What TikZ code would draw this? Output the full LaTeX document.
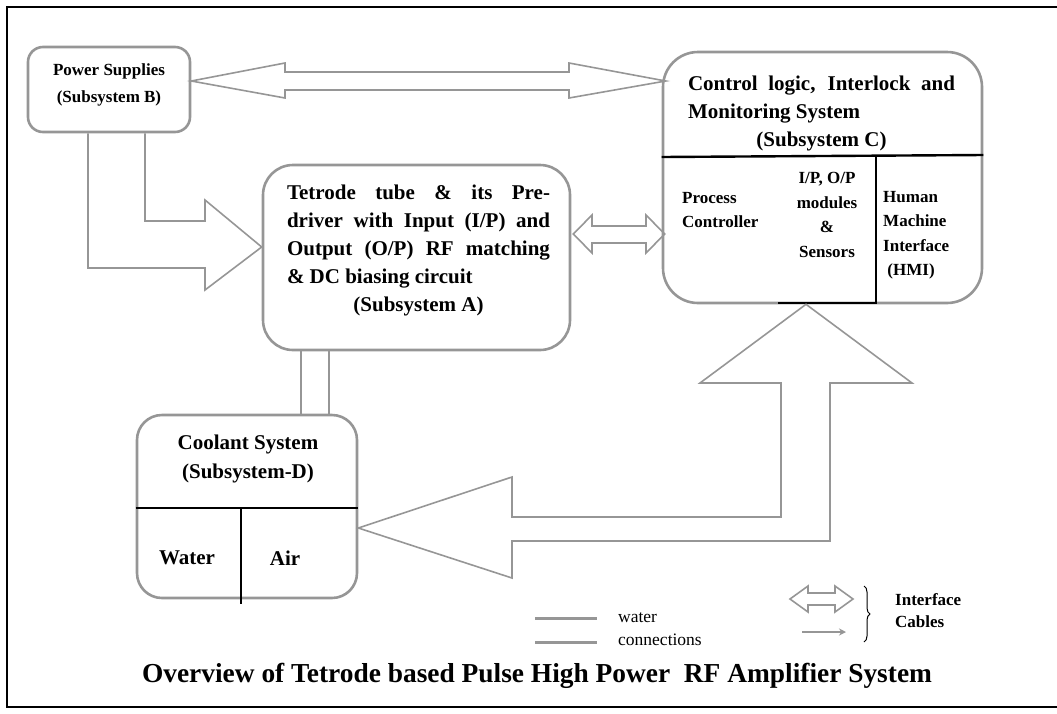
\documentclass[tikz,border=0pt]{standalone}
\usepackage{fontspec}
\setmainfont{Liberation Serif}
\usetikzlibrary{arrows.meta,calc,positioning,decorations.pathreplacing}
\definecolor{linegray}{RGB}{150,150,150}

\begin{document}
\begin{tikzpicture}[x=1pt, y=-1pt,
  block/.style={draw=linegray, line width=2.6pt, rounded corners=#1, inner sep=0pt},
  hollow/.style={draw=linegray, line width=1.6pt, line join=miter},
  divider/.style={draw=black, line width=2.4pt},
  water/.style={draw=linegray, line width=2.6pt},
  big/.style={font=\fontsize{21}{28}\selectfont\bfseries, inner sep=0pt, align=left},
  small/.style={font=\fontsize{17}{24.5}\selectfont\bfseries, inner sep=0pt, align=#1},
  small/.default=center
]
  \useasboundingbox (0,0) rectangle (1057,713);
  \draw[line width=2pt] (1057,7) -- (7,7) -- (7,707) -- (1057,707);

  % Subsystems
  \node[block=15pt, minimum width=162pt, minimum height=85pt] (ps) at (109,89.5) {};
  \node[block=30pt, minimum width=307pt, minimum height=185pt] (tet) at (416.5,257.5) {};
  \node[block=35pt, minimum width=319pt, minimum height=251pt] (ctl) at (822.5,177.5) {};
  \node[block=25pt, minimum width=220pt, minimum height=183pt] (cool) at (247,506.5) {};

  % Texts
  \node[small, font=\fontsize{17}{27}\selectfont\bfseries] (pstxt) at (109,85) {Power Supplies\\(Subsystem B)};
  \node[big] (tettxt) at (418.5,250.5) {%
    \makebox[263pt][s]{Tetrode tube \& its Pre-}\\
    \makebox[263pt][s]{driver with Input (I/P) and}\\
    \makebox[263pt][s]{Output (O/P) RF matching}\\
    \& DC biasing circuit\\
    \makebox[263pt][c]{(Subsystem A)}};
  \node[big] (ctltxt) at (821.5,113.5) {%
    \makebox[267pt][s]{Control logic, Interlock and}\\
    Monitoring System\\
    \makebox[267pt][c]{(Subsystem C)}};
  \node[small=left, anchor=west] (proc) at (682,210) {Process\\Controller};
  \node[small] (iomod) at (827,215) {I/P, O/P\\modules\\\&\\Sensors};
  \node[small=left, anchor=west] (hmi) at (883,235) {Human\\Machine\\Interface\\\ (HMI)};
  \node[big, align=center, font=\fontsize{21}{29}\selectfont\bfseries] (cooltxt) at (248,458.5) {Coolant System\\(Subsystem-D)};
  \node[big] (wtr) at (187,558) {Water};
  \node[big] (air) at (285,558) {Air};

  % Dividers
  \draw[divider] (ctl.west |- 0,157) -- (ctl.east |- 0,155);
  \draw[divider] (876,157) -- (876,303) -- (778,303);
  \draw[divider] (cool.west |- 0,508) -- (cool.east |- 0,508);
  \draw[divider] (241,508) -- (241,604);

  % Interface cables
  \draw[hollow] ($(ps.east)+(0,-8.5)$) -- (285,63) -- (285,72) -- (569,72) -- (569,63)
    -- ($(ctl.west)+(4,-96.5)$) -- (569,98) -- (569,90) -- (285,90) -- (285,98) -- cycle;
  \draw[hollow] (88,0 |- ps.south) -- (88,268) -- (205,268) -- (205,290)
    -- ($(tet.west)+(0,-10.5)$) -- (205,200) -- (205,221) -- (145,221) -- (145,0 |- ps.south);
  \draw[hollow] ($(tet.east)+(2,-23.5)$) -- (592,215) -- (592,226) -- (646,226) -- (646,215)
    -- ($(ctl.west)+(3,56.5)$) -- (646,253) -- (646,243) -- (592,243) -- (592,253) -- cycle;
  \draw[hollow] ($(ctl.south)+(-16.5,0)$) -- (912,383) -- (830,383) -- (830,541) -- (512,541)
    -- (512,578) -- ($(cool.east)+(0,21.5)$) -- (512,477) -- (512,517) -- (781,517)
    -- (781,383) -- (700,383) -- cycle;

  % Water connections
  \draw[water] (301,0 |- tet.south) -- (301,0 |- cool.north);
  \draw[water] (329,0 |- tet.south) -- (329,0 |- cool.north);

  % Legend
  \draw[water, line width=3pt] (535,618) -- (597,618);
  \draw[water, line width=3pt] (535,642) -- (597,642);
  \node[font=\fontsize{17.5}{23}\selectfont, align=left, anchor=west, inner sep=0pt] (wleg) at (618,629.5) {water\\connections};
  \draw[hollow] (790,599) -- (808,586) -- (808,593) -- (835,593) -- (835,586) -- (853,599)
    -- (835,612) -- (835,605) -- (808,605) -- (808,612) -- cycle;
  \draw[linegray, line width=1.6pt, -{Stealth[length=7pt, width=7pt]}] (802,632) -- (846,632);
  \draw[decorate, decoration={brace, amplitude=6pt}, line width=1pt] (864,586) -- (864,642);
  \node[small=left, anchor=west, font=\fontsize{17}{22}\selectfont\bfseries] (ileg) at (895,611) {Interface\\Cables};

  % Title
  \node[font=\fontsize{27.4}{32}\selectfont\bfseries, inner sep=0pt] (title) at (537,676)
    {Overview of Tetrode based Pulse High Power\ \ RF Amplifier System};
\end{tikzpicture}
\end{document}
